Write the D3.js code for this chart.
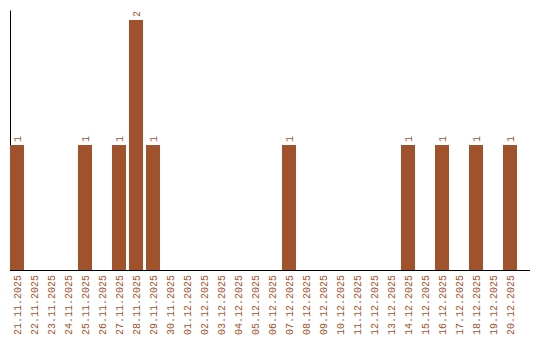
<!DOCTYPE html>
<html>
<head>
<meta charset="utf-8">
<script src="https://cdn.jsdelivr.net/npm/d3@7.9.0/dist/d3.min.js"></script>
<style>
    html, body { margin: 0; padding: 0; background: #fff; }
    svg { display: block; }
</style>
</head>
<body>
<div id="chart"></div>
<script>
// dates and counts
var dates = [
    '21.11.2025', '22.11.2025', '23.11.2025', '24.11.2025', '25.11.2025',
    '26.11.2025', '27.11.2025', '28.11.2025', '29.11.2025', '30.11.2025',
    '01.12.2025', '02.12.2025', '03.12.2025', '04.12.2025', '05.12.2025',
    '06.12.2025', '07.12.2025', '08.12.2025', '09.12.2025', '10.12.2025',
    '11.12.2025', '12.12.2025', '13.12.2025', '14.12.2025', '15.12.2025',
    '16.12.2025', '17.12.2025', '18.12.2025', '19.12.2025', '20.12.2025'
]
var counts = [
    1, 0, 0, 0, 1,
    0, 1, 2, 1, 0,
    0, 0, 0, 0, 0,
    0, 1, 0, 0, 0,
    0, 0, 0, 1, 0,
    1, 0, 1, 0, 1
]
var yMax = 2.08

;(function () {
    var W = 540, H = 340
    var left = 10, right = 530, top = 10, bottom = 270
    var COLOR = '#a0522d'
    var FONT = '"Liberation Mono", monospace'

    var data = dates.map(function (d, i) { return { date: d, value: counts[i] } })

    var svg = d3.select('#chart').append('svg')
        .attr('width', W)
        .attr('height', H)

    var x = d3.scaleBand()
        .domain(dates)
        .range([left, left + 17 * dates.length - 3])
        .paddingInner(3 / 17)
        .paddingOuter(0)

    var y = d3.scaleLinear()
        .domain([0, yMax])
        .range([bottom, top])

    // y axis (line only), drawn under the bars
    svg.append('g')
        .attr('transform', 'translate(' + left + ',0)')
        .call(d3.axisLeft(y).ticks(0).tickSize(0).tickSizeOuter(0))
        .call(function (g) {
            g.select('.domain').attr('stroke', '#000')
        })

    // bars
    svg.append('g')
        .selectAll('rect')
        .data(data.filter(function (d) { return d.value > 0 }))
        .join('rect')
        .attr('x', function (d) { return x(d.date) })
        .attr('y', function (d) { return y(d.value) })
        .attr('width', x.bandwidth())
        .attr('height', function (d) { return y(0) - y(d.value) })
        .attr('fill', COLOR)

    // value labels
    svg.append('g')
        .selectAll('text')
        .data(data.filter(function (d) { return d.value > 0 }))
        .join('text')
        .attr('transform', function (d) {
            return 'translate(' + (x(d.date) + x.bandwidth() / 2) + ',' + (y(d.value) - 3) + ') rotate(-90)'
        })
        .attr('dy', '0.35em')
        .attr('text-anchor', 'start')
        .attr('fill', COLOR)
        .attr('font-size', 10)
        .attr('font-family', FONT)
        .text(function (d) { return d.value })

    // x axis baseline across full width
    svg.append('line')
        .attr('x1', left)
        .attr('x2', right)
        .attr('y1', bottom + 0.5)
        .attr('y2', bottom + 0.5)
        .attr('stroke', '#000')

    // date labels, rotated
    var xAxis = svg.append('g')
        .attr('transform', 'translate(0,' + bottom + ')')
        .call(d3.axisBottom(x).tickSize(0).tickSizeOuter(0))
    xAxis.select('.domain').remove()
    xAxis.selectAll('text')
        .attr('transform', 'translate(0,5) rotate(-90)')
        .attr('x', 0)
        .attr('y', 0)
        .attr('dy', '0.35em')
        .attr('text-anchor', 'end')
        .attr('fill', COLOR)
        .attr('font-size', 10)
        .attr('font-family', FONT)
})()
</script>
</body>
</html>
